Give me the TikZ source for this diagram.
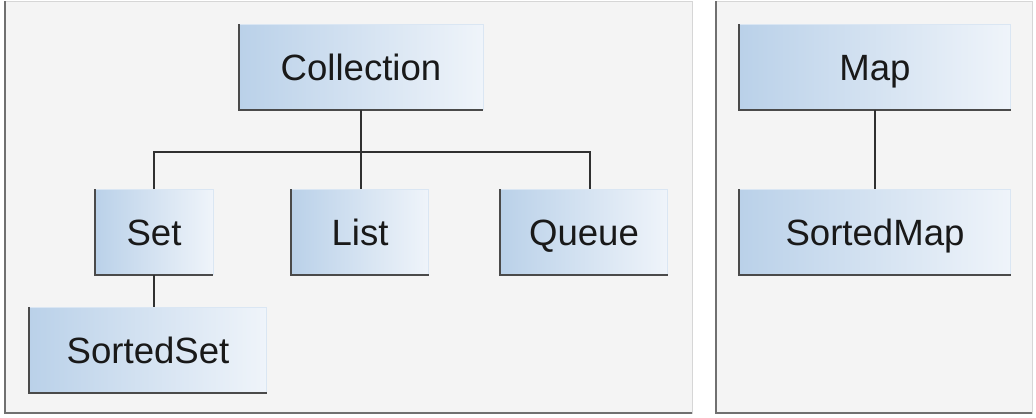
\documentclass[tikz,border=0pt]{standalone}
\usepackage{fontspec}
\setmainfont{Liberation Sans}
\usepackage{tikz}

\definecolor{panelbg}{HTML}{F4F4F4}
\definecolor{panelrim}{HTML}{D6D6D6}
\definecolor{paneledge}{HTML}{707070}
\definecolor{boxdark}{HTML}{BAD1E9}
\definecolor{boxlight}{HTML}{EFF4FA}
\definecolor{boxedge}{HTML}{4A4A4A}
\definecolor{wire}{HTML}{303030}

\tikzset{
	iface/.style={rectangle, left color=boxdark, right color=boxlight, draw=boxlight!60!boxdark,
		minimum height=2.125cm, inner sep=0pt, text=black!90,
		text height=18.6pt, text depth=0pt,
		font=\fontsize{26}{30}\selectfont},
	link/.style={draw=wire, line width=1.6pt},
	rim/.style={draw=boxedge, line width=1.5pt}
}

\begin{document}
\begin{tikzpicture}[x=0.025cm, y=-0.025cm]
	\useasboundingbox[fill=white] (0,0) rectangle (1036,417);
	% panels
	\draw[fill=panelbg, draw=panelrim] (5,1) rectangle (692,413);
	\draw[paneledge, line width=2pt] (5,1) -- (5,413) -- (692,413);
	\draw[fill=panelbg, draw=panelrim] (716,1) rectangle (1032,413);
	\draw[paneledge, line width=2pt] (716,1) -- (716,413) -- (1032,413);

	\node (coll) at (361,67) [iface, minimum width=6.1cm] {Collection};
		\node (set) at (154,232) [iface, minimum width=2.95cm] {Set};
		\node (list) at (360,232) [iface, minimum width=3.425cm] {List};
		\node (queue) at (584,232) [iface, minimum width=4.175cm] {Queue};
			\node (sset) at (148,350) [iface, minimum width=5.925cm] {SortedSet};
	\node (map) at (875,67) [iface, minimum width=6.775cm] {Map};
		\node (smap) at (875,232) [iface, minimum width=6.775cm] {SortedMap};

	\foreach \n in {coll,set,list,queue,sset,map,smap}
		\draw[rim] (\n.north west) |- (\n.south east);

	\draw[link] (coll.south) -- ++(0,42) coordinate (hub);
	\draw[link] (set.north) |- (hub) -| ([xshift=0.15cm]queue.north);
	\draw[link] (hub) -- (hub |- list.north);
	\draw[link] (set.south) -- (set.south |- sset.north);
	\draw[link] (map.south) -- (smap.north);
\end{tikzpicture}
\end{document}
